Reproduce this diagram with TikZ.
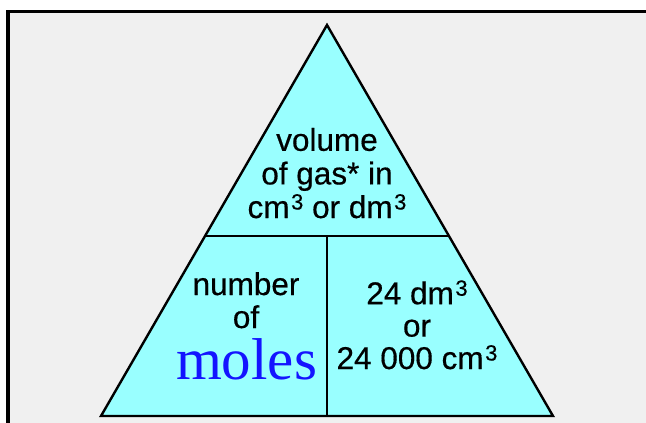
\documentclass[tikz,border=0pt]{standalone}
\usepackage{fontspec}
\setmainfont{Liberation Sans}[FakeBold=0.5]
\newfontfamily\molesfont{Liberation Serif}
\usetikzlibrary{calc}
\definecolor{TriCyan}{HTML}{99FFFF}
\definecolor{PanelGray}{HTML}{F0F0F0}
\definecolor{MolesBlue}{HTML}{1414FF}
\newcommand{\cubed}{\kern1.5pt\raisebox{8.5pt}{\scalebox{0.7}{3}}}
\tikzset{
  tripart/.style={font=\fontsize{31.5}{33}\selectfont, align=center, inner sep=0pt, anchor=base},
  triline/.style={line width=2.4pt, line join=miter}
}

\begin{document}
\begin{tikzpicture}[x=1pt, y=-1pt]
\useasboundingbox (0,0) rectangle (646,423);
\fill[white] (0,0) rectangle (646,423);
% grey panel with its frame on two sides
\fill[PanelGray] (7.75,11.5) rectangle (646,423);
\draw[line width=3.5pt, line join=miter] (7.75,423) -- (7.75,11.5) -- (646,11.5);

% the triangle and its three parts
\coordinate (apex) at (327,25);
\coordinate (baseL) at (101,416);
\coordinate (baseR) at (553,416);
\filldraw[fill=TriCyan, triline] (apex) -- (baseL) -- (baseR) -- cycle;
\coordinate (midL) at ($(apex)!0.5396!(baseL)$);
\coordinate (midR) at ($(apex)!0.5396!(baseR)$);
\coordinate (midC) at ($(midL)!0.5!(midR)$);
\coordinate (baseC) at ($(baseL)!0.5!(baseR)$);
\draw[triline] (midL) -- (midR);
\draw[triline] (midC) -- (baseC);

% texts, each placed by the baseline of its last line
\node[tripart, font=\fontsize{31.5}{33.6}\selectfont] at (327,218) (gasvol) {volume\\of gas* in\\cm\cubed{} or dm\cubed};
\node[tripart] at (246,328) (molenum) {number\\of};
\node[tripart, font=\molesfont\fontsize{59}{59}\selectfont, text=MolesBlue] at (246.5,379) (moles) {moles};
\node[tripart, font=\fontsize{31.5}{32.4}\selectfont] at (417,369) (molarvol) {24 dm\cubed\\or\\24 000 cm\cubed};
\end{tikzpicture}
\end{document}
